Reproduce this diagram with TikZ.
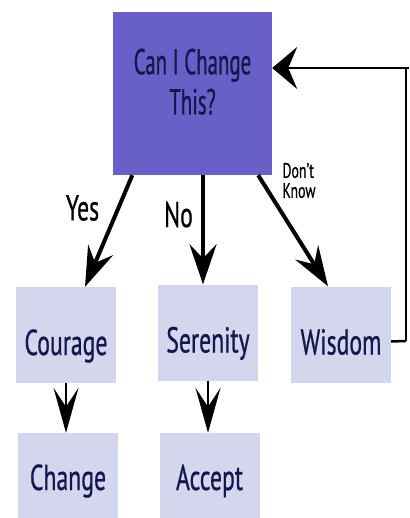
\documentclass[tikz,border=0pt]{standalone}
\usepackage{fontspec}
\setmainfont[FakeStretch=0.66,FakeBold=0.6]{PT Sans}
\newfontfamily\questionfont[FakeStretch=0.58,FakeBold=0.6]{PT Sans}
\usepackage{tikz}
\usetikzlibrary{arrows.meta,positioning}
\definecolor{questionblue}{RGB}{104,96,198}
\definecolor{answerlilac}{RGB}{212,214,238}
\definecolor{inknavy}{RGB}{22,22,78}

\begin{document}
\begin{tikzpicture}
                    [
                        x=1pt, y=-1pt,
                        rectanglenode_question/.style={rectangle, fill=questionblue, text=inknavy, inner sep=0pt, minimum width=159pt, minimum height=163pt, align=center, text depth=24pt, font=\questionfont\fontsize{36}{40}\selectfont},
                        rectanglenode_answer/.style={rectangle, fill=answerlilac, text=inknavy, inner sep=0pt, minimum width=100pt, minimum height=96pt, text height=40pt, text depth=0pt, font=\fontsize{36}{40}\selectfont},
                        rectanglenode_result/.style={rectanglenode_answer, minimum height=85pt, text height=29pt},
                        choicetext/.style={inner sep=0pt, font=\fontsize{36}{40}\selectfont},
                        smalltext/.style={inner sep=0pt, align=left, font=\fontsize{21}{20}\selectfont},
                        bigarrow/.style={-{Stealth[length=40pt, width=27pt, inset=14pt]}, line width=4pt},
                        smallarrow/.style={-{Stealth[length=45pt, width=25pt, inset=19pt]}, line width=2pt},
                        backarrow/.style={-{Stealth[length=25pt, width=42pt, inset=9pt]}, line width=2.5pt},
                    ]

                    \useasboundingbox (0,0) rectangle (409,518);

                    \node[rectanglenode_question] (question) at (192.5,93.5) {Can I Change\\This?};

                    \node[rectanglenode_answer] (courage) at (66,335) {Courage};
                    \node[rectanglenode_answer] (serenity) at (208,332.5) {Serenity};
                    \node[rectanglenode_answer] (wisdom) at (341,334.5) {Wisdom};
                    \node[rectanglenode_result] (change) at (68,475.5) {Change};
                    \node[rectanglenode_result] (accept) at (209.5,475.5) {Accept};

                    \node[choicetext] (textyes) at (82.5,208) {Yes};
                    \node[choicetext] (textno) at (178.5,214.5) {No};
                    \node[smalltext] (textdontknow) at (299,180.5) {Don't\\Know};

                    \draw[bigarrow] ([xshift=19.5pt]question.south west) -- ([xshift=19pt]courage.north);
                    \draw[bigarrow] ([xshift=10.5pt]question.south) -- ([xshift=-5pt]serenity.north);
                    \draw[bigarrow] ([xshift=-14pt]question.south east) -- ([xshift=-13pt]wisdom.north);

                    \draw[smallarrow] (courage.south) -- (courage.south |- change.north);
                    \draw[smallarrow] (serenity.south) -- (serenity.south |- accept.north);

                    \coordinate (returnbottom) at (406,341);
                    \coordinate (returntop) at (406,68);
                    \draw[line width=2.5pt] ([yshift=-7pt]wisdom.east) -- (returnbottom);
                    \draw[line width=1.2pt] (returnbottom) -- (returntop);
                    \draw[backarrow] ([xshift=3pt]returntop) -- ([yshift=25.5pt]question.east);

                \end{tikzpicture}
\end{document}
